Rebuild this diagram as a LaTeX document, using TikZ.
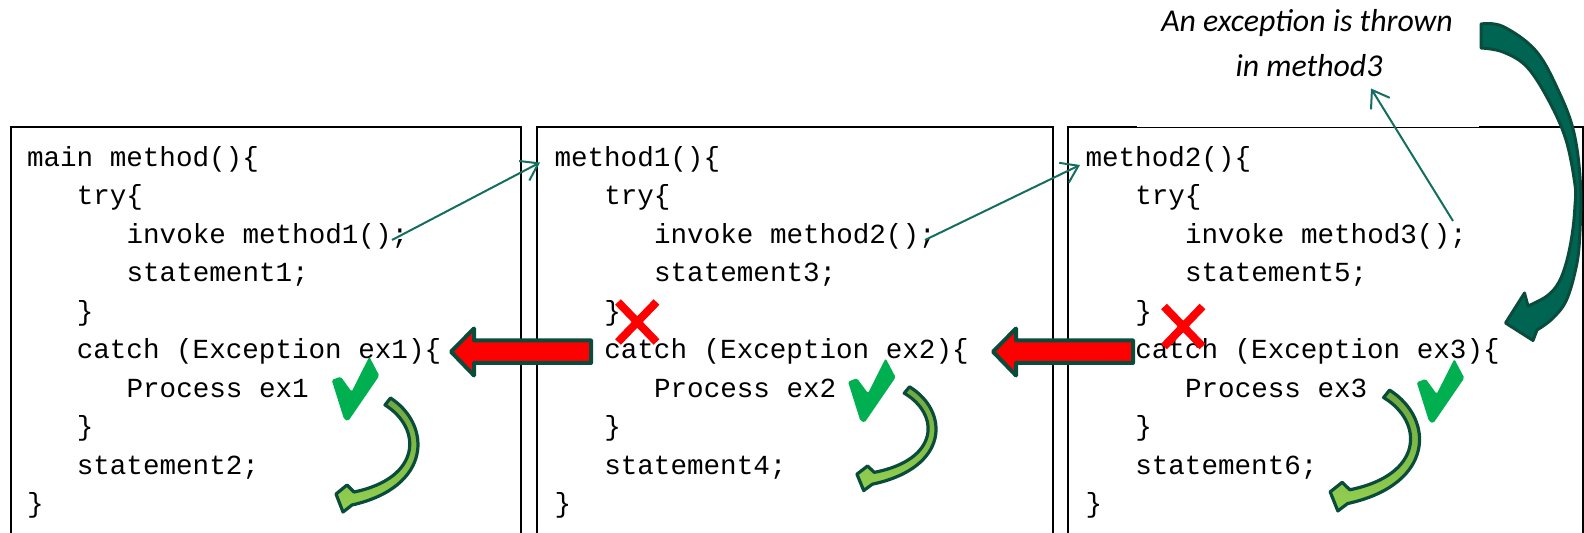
\documentclass[tikz,border=0pt]{standalone}
\usepackage{fontspec}
\newfontfamily\codefont{Liberation Mono}
\newfontfamily\notefont{Carlito}
\usetikzlibrary{arrows.meta}

\definecolor{outlinegreen}{RGB}{10,76,60}
\definecolor{callteal}{RGB}{20,110,95}
\definecolor{bigteal}{RGB}{0,100,82}
\definecolor{checkgreen}{RGB}{0,176,80}
\definecolor{olivegreen}{RGB}{112,168,62}
\definecolor{limegreen}{RGB}{146,208,80}

\tikzset{
  codebox/.style={draw=black, line width=1pt, anchor=north west, inner sep=0pt},
  codeline/.style={font=\codefont\fontsize{13.8pt}{16pt}\selectfont, anchor=base west,
    inner sep=0pt, outer sep=0pt},
  notetext/.style={font=\notefont\itshape\fontsize{15.9pt}{18pt}\selectfont, anchor=base,
    inner sep=0pt},
  callarrow/.style={draw=callteal, line width=1pt,
    -{Straight Barb[length=8pt,width=11pt]}},
  passarrow/.style={draw=outlinegreen, line width=2pt, fill=red, line join=round},
  crossmark/.style={draw=red, line width=4pt},
  tick/.style={fill=checkgreen, rounded corners=0.8pt},
  flowarrow/.style={draw=outlinegreen, line width=1.6pt, top color=olivegreen,
    bottom color=limegreen, line join=round},
  throwarrow/.style={draw=outlinegreen, line width=1.5pt, fill=bigteal, line join=round},
}

\begin{document}
\begin{tikzpicture}[x=0.5pt,y=-0.5pt]
\useasboundingbox (0,0) rectangle (1584,533);

% the three method frames
\node[codebox, minimum width=255pt, minimum height=204pt] (frame1) at (10,126) {};
\node[codebox, minimum width=258pt, minimum height=204pt] (frame2) at (536,126) {};
\node[codebox, minimum width=257.5pt, minimum height=204pt] (frame3) at (1067,126) {};
% the note's text box trims the upper half of the third frame's top edge
\fill[white] (1137,118) rectangle (1479,126.6);

% code listings: indent level / text
\foreach \ind/\txt [count=\r from 0] in {0/{main method()\{}, 1/{try\{},
    2/{invoke method1();}, 2/{statement1;}, 1/{\}}, 1/{catch (Exception ex1)\{},
    2/{Process ex1}, 1/{\}}, 1/{statement2;}, 0/{\}}}
  {\node[codeline] (main-\r) at (27+49.8*\ind, 166.5+38.45*\r) {\txt};}
\foreach \ind/\txt [count=\r from 0] in {0/{method1()\{}, 1/{try\{},
    2/{invoke method2();}, 2/{statement3;}, 1/{\}}, 1/{catch (Exception ex2)\{},
    2/{Process ex2}, 1/{\}}, 1/{statement4;}, 0/{\}}}
  {\node[codeline] (one-\r) at (554.5+49.8*\ind, 166.5+38.45*\r) {\txt};}
\foreach \ind/\txt [count=\r from 0] in {0/{method2()\{}, 1/{try\{},
    2/{invoke method3();}, 2/{statement5;}, 1/{\}}, 1/{catch (Exception ex3)\{},
    2/{Process ex3}, 1/{\}}, 1/{statement6;}, 0/{\}}}
  {\node[codeline] (two-\r) at (1085.5+49.8*\ind, 166.5+38.45*\r) {\txt};}

% note about the thrown exception
\node[notetext] (note1) at (1307,31.2) {An exception is thrown};
\node[notetext] (note2) at (1309,76.3) {in method3};

% call arrows
\coordinate (call1) at (392,240);
\coordinate (entry1) at (540,162.5);
\coordinate (call2) at (925,240);
\coordinate (entry2) at (1080,165);
\coordinate (throw) at (1453,221);
\coordinate (notefoot) at (1371,88.5);
\draw[callarrow] (call1) -- (entry1);
\draw[callarrow] (call2) -- (entry2);
\draw[callarrow] (throw) -- (notefoot);

% exception passed back to the caller
\draw[passarrow] (591,340.5) -- (474,340.5) -- (474,328.5) -- (451,351.7)
  -- (474,375.5) -- (474,363) -- (591,363) -- cycle;
\begin{scope}[shift={(542,0)}]
  \draw[passarrow] (591,340.5) -- (474,340.5) -- (474,328.5) -- (451,351.7)
    -- (474,375.5) -- (474,363) -- (591,363) -- cycle;
\end{scope}

% skipped statements
\draw[crossmark] (618,302) -- (656.5,342) (656.5,302) -- (618,342);
\draw[crossmark] (1164,306.5) -- (1202.5,346.5) (1202.5,306.5) -- (1164,346.5);

% handled ticks
\foreach \tx/\ty in {331.7/356.7, 848/358.3, 1416.7/359}{
  \begin{scope}[shift={(\tx,\ty)}]
    \fill[tick] (0,23.3) -- (9,20) -- (20,35) -- (37.6,0) -- (47.6,19) -- (16.6,64.3)
      -- (12.3,62.3) -- cycle;
  \end{scope}
}

% flow continues after the catch block
\foreach \fx/\fy/\sx/\sy in {334/396/1/1, 855/385/0.965/0.91, 1328/388/1.09/1.06}{
  \begin{scope}[shift={(\fx,\fy)}, xscale=\sx, yscale=\sy]
    \path[flowarrow] (56.5,2) .. controls (98,29) and (98,91) .. (18,109) -- (9,116)
      -- (2,98) -- (13,89) -- (20,96) .. controls (88,82) and (88,32) .. (51,9) -- cycle;
  \end{scope}
}

% exception thrown back into method2: a twisted ribbon ending in a broad head
\path[throwarrow]
  plot[smooth, tension=0.6] coordinates {(1481,24) (1503,26.5) (1536,51) (1559,92)
    (1574,133) (1580.5,185) (1579.5,240) (1575.5,270) (1566,301) (1552,319) (1537,330)}
  -- (1533,340.5) -- (1505.5,323) -- (1524.5,293) -- (1528,306)
  -- plot[smooth, tension=0.6] coordinates {(1528,306) (1547,296) (1559,282)
    (1567,260) (1572.5,232) (1575,205) (1575,185) (1566,140) (1549,101) (1527,67)
    (1503,52) (1481,48)}
  -- cycle;
\end{tikzpicture}
\end{document}
